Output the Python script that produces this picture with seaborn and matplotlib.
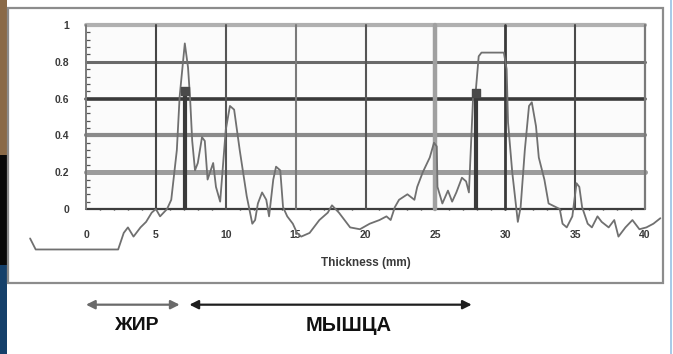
import matplotlib
matplotlib.use("Agg")
import matplotlib.pyplot as plt
from matplotlib.patches import Rectangle
from matplotlib.ticker import MultipleLocator
import seaborn as sns
import pandas as pd

# ---- data ----
thickness_mm = [-4.0, -3.6, 2.3, 2.7, 3.0, 3.4, 3.9, 4.3, 4.7, 5.0,
                5.3, 5.8, 6.1, 6.5, 6.7, 7.07, 7.3, 7.45, 7.6, 7.8,
                8.0, 8.3, 8.5, 8.7, 9.1, 9.3, 9.6, 10.0, 10.3, 10.6,
                11.0, 11.5, 11.9, 12.1, 12.3, 12.6, 12.9, 13.1, 13.4, 13.6,
                13.9, 14.1, 14.4, 14.8, 15.1, 15.4, 16.0, 16.7, 17.3, 17.6,
                18.1, 18.4, 18.9, 19.6, 20.3, 21.0, 21.5, 21.8, 22.1, 22.4,
                23.0, 23.5, 23.7, 24.1, 24.6, 24.9, 25.1, 25.15, 25.5, 25.9,
                26.2, 26.5, 26.9, 27.2, 27.4, 27.7, 27.9, 28.1, 28.3, 29.9,
                30.1, 30.2, 30.5, 30.9, 31.1, 31.4, 31.7, 31.9, 32.2, 32.4,
                32.8, 33.1, 33.9, 34.1, 34.4, 34.8, 35.1, 35.3, 35.5, 35.9,
                36.2, 36.6, 36.9, 37.4, 37.8, 38.1, 38.6, 39.1, 39.6, 40.1,
                40.6, 41.1]
signal = [-0.16, -0.22, -0.22, -0.13, -0.10, -0.15, -0.10, -0.07, -0.02, 0.0,
          -0.04, 0.0, 0.05, 0.32, 0.61, 0.90, 0.77, 0.60, 0.37, 0.21,
          0.25, 0.39, 0.37, 0.16, 0.25, 0.12, 0.04, 0.43, 0.56, 0.54,
          0.32, 0.07, -0.08, -0.06, 0.03, 0.09, 0.05, -0.04, 0.16, 0.23,
          0.21, 0.01, -0.04, -0.08, -0.13, -0.15, -0.13, -0.06, -0.02, 0.02,
          -0.02, -0.05, -0.10, -0.11, -0.08, -0.06, -0.04, -0.06, 0.01, 0.05,
          0.08, 0.05, 0.12, 0.20, 0.28, 0.36, 0.34, 0.12, 0.03, 0.10,
          0.04, 0.09, 0.17, 0.15, 0.09, 0.61, 0.65, 0.83, 0.85, 0.85,
          0.76, 0.47, 0.20, -0.07, 0.01, 0.32, 0.56, 0.58, 0.45, 0.28,
          0.16, 0.03, 0.0, -0.08, -0.10, -0.04, 0.14, 0.12, 0.01, -0.08,
          -0.10, -0.04, -0.07, -0.10, -0.06, -0.15, -0.10, -0.06, -0.11, -0.10,
          -0.08, -0.05]

stem_x = [7.1, 27.9]
stem_top = [0.64, 0.63]

x_ticks = [0, 5, 10, 15, 20, 25, 30, 35, 40]
y_ticks = [0, 0.2, 0.4, 0.6, 0.8, 1.0]
y_tick_labels = ["0", "0.2", "0.4", "0.6", "0.8", "1"]

fat_range = [0.0, 6.7]
muscle_range = [7.4, 27.6]
fat_label = "ЖИР"
muscle_label = "МЫШЦА"
x_title = "Thickness (mm)"

# ---- styling ----
sns.set_theme(style="white")
plt.rcParams["font.family"] = ["Liberation Sans", "DejaVu Sans"]

W, H = 673, 354
fig = plt.figure(figsize=(W / 100, H / 100), dpi=100)
fig.patch.set_facecolor("white")

# slide background strips & outer frame
fig.patches.append(Rectangle((0, 1 - 155 / H), 7 / W, 155 / H, transform=fig.transFigure,
                             facecolor="#8a6a48", edgecolor="none", zorder=0))
fig.patches.append(Rectangle((0, 1 - 265 / H), 7 / W, 110 / H, transform=fig.transFigure,
                             facecolor="#080808", edgecolor="none", zorder=0))
fig.patches.append(Rectangle((0, 0), 7 / W, 89 / H, transform=fig.transFigure,
                             facecolor="#15406a", edgecolor="none", zorder=0))
fig.patches.append(Rectangle((670 / W, 0), 2 / W, 1, transform=fig.transFigure,
                             facecolor="#a9cbe8", edgecolor="none", zorder=0))
fig.patches.append(Rectangle((8 / W, 1 - 283 / H), (663 - 8) / W, (283 - 8) / H,
                             transform=fig.transFigure, fill=False,
                             edgecolor="#8c8c8c", linewidth=1.6, zorder=1))

ax = fig.add_axes([86 / W, 1 - 209 / H, (645 - 86) / W, (209 - 25) / H])
ax.set_facecolor("#fbfbfb")
ax.set_xlim(0, 40)
ax.set_ylim(0, 1)
for s in ax.spines.values():
    s.set_visible(False)

# grid lines (varying shades like the scanned original)
h_styles = {1.0: ("#b0b0b0", 3.0), 0.8: ("#6a6a6a", 2.2), 0.6: ("#3a3a3a", 2.6),
            0.4: ("#8a8a8a", 3.0), 0.2: ("#9c9c9c", 3.6), 0.0: ("#3c3c3c", 1.6)}
for yv in y_ticks:
    c, lw = h_styles[yv]
    ax.axhline(yv, color=c, lw=lw, zorder=1, clip_on=False)
v_styles = {0: ("#7a7a7a", 1.4), 5: ("#454545", 1.5), 10: ("#555555", 1.5),
            15: ("#7a7a7a", 1.5), 20: ("#555555", 1.5), 25: ("#a0a0a0", 3.2),
            30: ("#3a3a3a", 2.0), 35: ("#4a4a4a", 1.5), 40: ("#7a7a7a", 1.6)}
for xv in x_ticks:
    c, lw = v_styles[xv]
    ax.axvline(xv, color=c, lw=lw, zorder=1, clip_on=False)

# signal curve
df = pd.DataFrame({"thickness": thickness_mm, "signal": signal})
sns.lineplot(data=df, x="thickness", y="signal", sort=False, ax=ax,
             color="#707070", lw=1.3, zorder=3)
ax.lines[-1].set_clip_on(False)

# dark interface stems
ax.vlines(stem_x, 0, stem_top, colors="#3a3a3a", lw=3.0, zorder=4)
ax.scatter(stem_x, stem_top, marker="s", s=32, color="#4a4a4a", zorder=5, clip_on=False)

# ticks
ax.set_xticks(x_ticks)
ax.set_xticklabels([str(v) for v in x_ticks])
ax.set_yticks(y_ticks)
ax.set_yticklabels(y_tick_labels)
ax.tick_params(axis="both", which="major", length=0, labelsize=7.5, labelcolor="#3a3a3a")
ax.tick_params(axis="x", which="major", pad=15)
ax.tick_params(axis="y", which="major", pad=12)
for lab in ax.get_xticklabels() + ax.get_yticklabels():
    lab.set_fontweight("bold")
ax.yaxis.set_minor_locator(MultipleLocator(0.04))
ax.xaxis.set_minor_locator(MultipleLocator(1))
ax.tick_params(axis="y", which="minor", left=True, direction="in", length=3,
               width=0.9, color="#555555")
ax.tick_params(axis="x", which="minor", bottom=True, direction="inout", length=2,
               width=1.0, color="#333333")

ax.set_xlabel(x_title, fontsize=8.5, color="#3a3a3a", fontweight="bold")
ax.set_ylabel("")
ax.xaxis.set_label_coords(0.5, -0.26)

# region arrows and labels below the chart
ax.annotate("", xy=(fat_range[0], -0.52), xytext=(fat_range[1], -0.52),
            xycoords="data", annotation_clip=False,
            arrowprops=dict(arrowstyle="<|-|>", color="#6a6a6a", lw=1.6,
                            mutation_scale=13, shrinkA=0, shrinkB=0))
ax.annotate("", xy=(muscle_range[0], -0.52), xytext=(muscle_range[1], -0.52),
            xycoords="data", annotation_clip=False,
            arrowprops=dict(arrowstyle="<|-|>", color="#1e1e1e", lw=1.6,
                            mutation_scale=13, shrinkA=0, shrinkB=0))
ax.text(3.6, -0.635, fat_label, ha="center", va="center", fontsize=14,
        fontweight="bold", color="#111111", clip_on=False)
ax.text(18.8, -0.635, muscle_label, ha="center", va="center", fontsize=14.5,
        fontweight="bold", color="#111111", clip_on=False)

fig.savefig("out.png", dpi=100)
